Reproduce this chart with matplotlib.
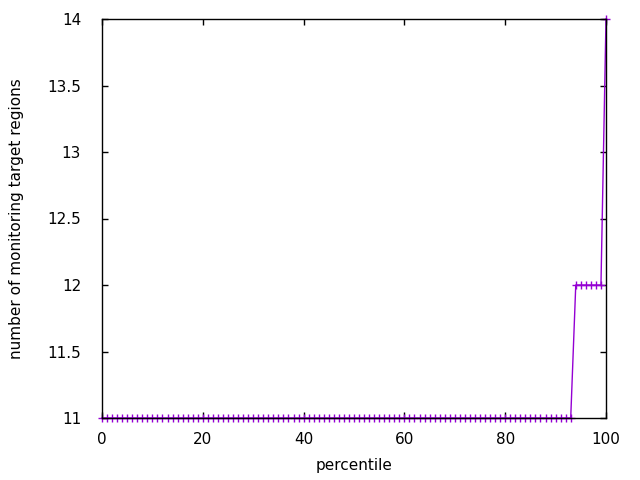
import numpy as np
import matplotlib
matplotlib.use('Agg')
import matplotlib.pyplot as plt

# percentile -> number of monitoring target regions
percentile = list(range(0, 101))
regions = [11] * 94 + [12] * 6 + [14]

fig = plt.figure(figsize=(6.4, 4.8), dpi=100)
ax = fig.add_axes([102 / 640, 1 - 418 / 480, (606 - 102) / 640, (418 - 19) / 480])

ax.plot(percentile, regions, color='#9400d3', lw=1.0, marker='+', ms=6, mew=1.0, clip_on=False)

ax.set_xlim(0, 100)
ax.set_ylim(11, 14)
ax.set_xticks([0, 20, 40, 60, 80, 100])
ax.set_yticks([11, 11.5, 12, 12.5, 13, 13.5, 14])
ax.set_yticklabels(['11', '11.5', '12', '12.5', '13', '13.5', '14'])
ax.tick_params(direction='in', top=True, right=True, length=4, width=1, labelsize=11)
ax.tick_params(axis='x', pad=10)
ax.tick_params(axis='y', pad=15)
for s in ax.spines.values():
    s.set_linewidth(1)
ax.set_xlabel('percentile', fontsize=11, labelpad=8)
ax.set_ylabel('number of monitoring target regions', fontsize=11, labelpad=17)

fig.savefig('out.png', dpi=100)
